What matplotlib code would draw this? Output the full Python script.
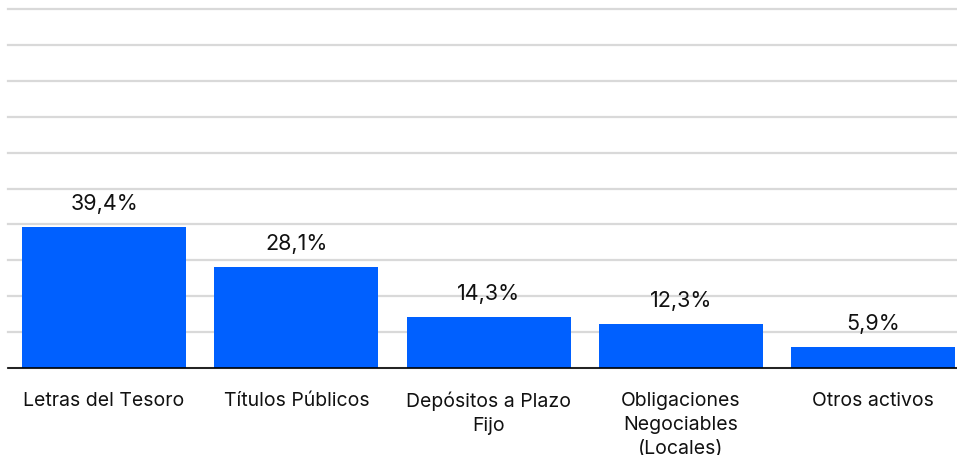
import matplotlib
matplotlib.use("Agg")
import matplotlib.pyplot as plt

categories = ["Letras del Tesoro", "Títulos Públicos", "Depósitos a Plazo\nFijo",
              "Obligaciones\nNegociables\n(Locales)", "Otros activos"]
values = [39.4, 28.1, 14.3, 12.3, 5.9]
labels = ["39,4%", "28,1%", "14,3%", "12,3%", "5,9%"]

plt.rcParams['font.family'] = ['Inter', 'DejaVu Sans']

fig = plt.figure(figsize=(9.57, 4.56), dpi=100)
W, H = 957, 456
ax = fig.add_axes([8 / W, (H - 369) / H, (957 - 8) / W, (369 - 10) / H])

x = list(range(len(categories)))
bars = ax.bar(x, values, width=0.853, color="#0060FF", zorder=3)
ax.set_xlim(-0.5, 4.437)
ax.set_ylim(0, 100)
ax.set_yticks(range(0, 101, 10))
ax.yaxis.grid(True, color="#d9d9d9", linewidth=1.6, zorder=0)
for gl in ax.yaxis.get_gridlines():
    gl.set_clip_on(False)
ax.tick_params(axis="y", left=False, labelleft=False)
ax.tick_params(axis="x", bottom=False, pad=13)
ax.set_xticks(x)
ax.set_xticklabels(categories, fontsize=14, color="#111111", linespacing=1.42, va="top")
for s in ["top", "right", "left"]:
    ax.spines[s].set_visible(False)
ax.spines["bottom"].set_color("black")
ax.spines["bottom"].set_linewidth(1.2)
ax.spines["bottom"].set_zorder(4)

for b, lab in zip(bars, labels):
    ax.annotate(lab, (b.get_x() + b.get_width() / 2, b.get_height()),
                xytext=(0, 10), textcoords="offset points",
                ha="center", va="bottom", fontsize=15.5, color="#111111")

fig.savefig("out.png", dpi=100)
